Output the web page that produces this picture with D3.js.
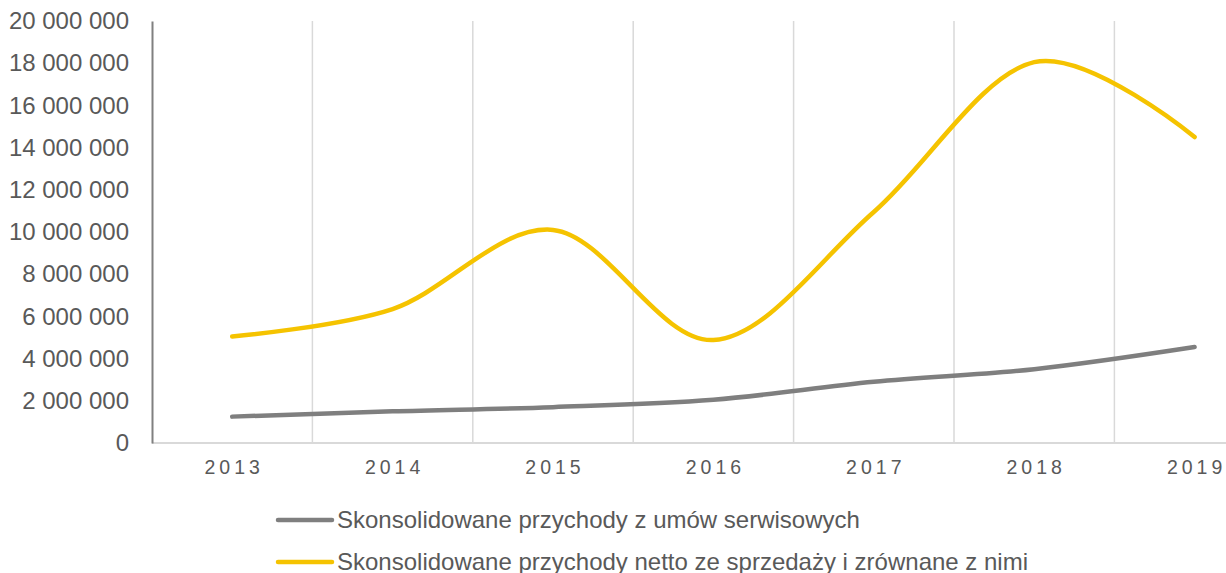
<!DOCTYPE html>
<meta charset="utf-8">
<style>
  body { margin: 0; background: #fff; }
  text { font-family: "Liberation Sans", Arial, sans-serif; fill: #595959; }
</style>
<body>
<script src="https://cdnjs.cloudflare.com/ajax/libs/d3/7.8.5/d3.min.js"></script>
<script>
// data
var years = ["2013", "2014", "2015", "2016", "2017", "2018", "2019"];
var serwisowe = [1250000, 1500000, 1700000, 2050000, 2900000, 3500000, 4550000];
var sprzedaz = [5050000, 6350000, 10100000, 4880000, 10950000, 18050000, 14500000];
var yTicks = [0, 2000000, 4000000, 6000000, 8000000, 10000000, 12000000, 14000000, 16000000, 18000000, 20000000];
var seriesNames = ["Skonsolidowane przychody z umów serwisowych",
                   "Skonsolidowane przychody netto ze sprzedaży i zrównane z nimi"];
var seriesColors = ["#7f7f7f", "#f5c300"];

var width = 1226, height = 573;
var svg = d3.select("body").append("svg")
    .attr("width", width)
    .attr("height", height);

// plot area (the right side runs past the picture edge, as in the original)
var x = d3.scaleBand().domain(years).range([152, 152 + 7 * 160.4]);
var y = d3.scaleLinear().domain([0, 20000000]).range([443, 21]);

var fmt = function(v) { return d3.format(",")(v).replace(/,/g, " "); };

// vertical gridlines between categories
svg.append("g")
  .selectAll("line")
  .data(years.slice(1))
  .enter().append("line")
    .attr("x1", function(d) { return x(d); })
    .attr("x2", function(d) { return x(d); })
    .attr("y1", y(20000000))
    .attr("y2", y(0))
    .attr("stroke", "#d9d9d9")
    .attr("stroke-width", 1.5);

// bottom axis line
svg.append("line")
    .attr("x1", 152).attr("x2", width)
    .attr("y1", y(0)).attr("y2", y(0))
    .attr("stroke", "#d9d9d9")
    .attr("stroke-width", 2);

// left axis
var yAxis = svg.append("g")
    .attr("transform", "translate(152,0)")
    .call(d3.axisLeft(y).tickValues(yTicks).tickFormat(fmt).tickSize(0).tickPadding(23));
yAxis.select(".domain").attr("stroke", "#808080").attr("stroke-width", 2);
yAxis.selectAll("text")
    .style("font-size", "24px")
    .style("font-family", "'Liberation Sans', Arial, sans-serif")
    .attr("fill", "#595959");

// x labels
var xAxis = svg.append("g")
    .attr("transform", "translate(0," + y(0) + ")")
    .call(d3.axisBottom(x).tickSize(0).tickPadding(17));
xAxis.select(".domain").remove();
xAxis.selectAll("text")
    .style("font-size", "19.5px")
    .style("font-family", "'Liberation Sans', Arial, sans-serif")
    .style("letter-spacing", "4px")
    .attr("dx", "2px")
    .attr("fill", "#595959");

// lines
var line = d3.line()
    .x(function(d, i) { return x(years[i]) + x.bandwidth() / 2; })
    .y(function(d) { return y(d); })
    .curve(d3.curveCardinal.tension(0));

[serwisowe, sprzedaz].forEach(function(vals, k) {
  svg.append("path")
    .datum(vals)
    .attr("d", line)
    .attr("fill", "none")
    .attr("stroke", seriesColors[k])
    .attr("stroke-width", 4.5)
    .attr("stroke-linecap", "round")
    .attr("stroke-linejoin", "round");
});

// legend
var legend = svg.append("g");
seriesNames.forEach(function(name, k) {
  var ly = 520 + k * 42;
  legend.append("line")
    .attr("x1", 278).attr("x2", 332)
    .attr("y1", ly).attr("y2", ly)
    .attr("stroke", seriesColors[k])
    .attr("stroke-width", 4.5)
    .attr("stroke-linecap", "round");
  legend.append("text")
    .attr("x", 337)
    .attr("y", ly + 7.5)
    .style("font-size", "24px")
    .text(name);
});
</script>
</body>
